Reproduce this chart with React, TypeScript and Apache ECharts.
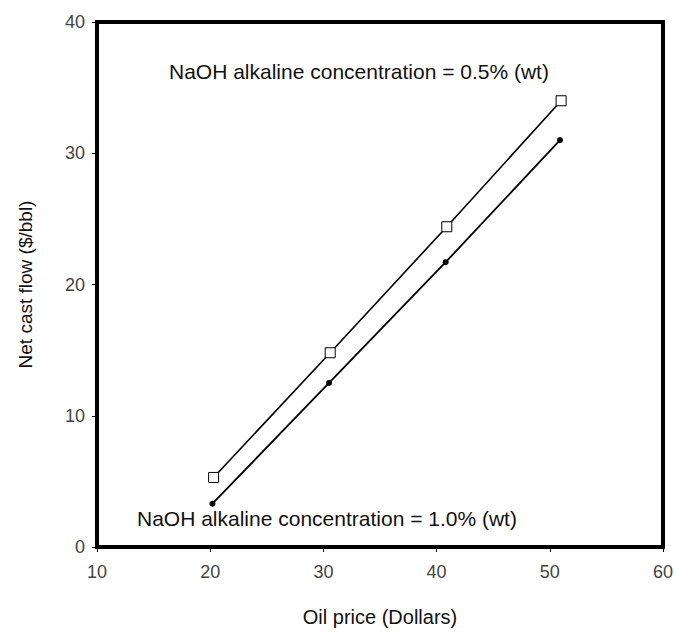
import React, { useEffect, useRef } from "react";
import * as echarts from "echarts";

const oilPrice05 = [20.3, 30.6, 40.9, 51.0];
const cashFlow05 = [5.3, 14.8, 24.4, 34.0];
const oilPrice10 = [20.2, 30.5, 40.8, 50.9];
const cashFlow10 = [3.3, 12.5, 21.7, 31.0];
const label05 = "NaOH alkaline concentration = 0.5% (wt)";
const label10 = "NaOH alkaline concentration = 1.0% (wt)";
const xTitle = "Oil price (Dollars)";
const yTitle = "Net cast flow ($/bbl)";

export default function App() {
  const ref = useRef<HTMLDivElement>(null);
  useEffect(() => {
    if (!ref.current) return;
    const chart = echarts.init(ref.current, null, { renderer: "svg" });
    const font = "Liberation Sans, Arial, sans-serif";
    chart.setOption({
      animation: false,
      backgroundColor: "#fff",
      grid: {
        left: 97,
        right: 13,
        top: 22,
        bottom: 86,
        show: true,
        borderColor: "#000",
        borderWidth: 4,
      },
      xAxis: {
        type: "value",
        min: 10,
        max: 60,
        interval: 10,
        name: xTitle,
        nameLocation: "middle",
        nameGap: 60,
        nameTextStyle: { fontFamily: font, fontSize: 20, color: "#111" },
        axisLine: { show: true, lineStyle: { color: "#000", width: 4 } },
        axisTick: { show: true, length: 5, lineStyle: { color: "#000", width: 1 } },
        axisLabel: { fontFamily: font, fontSize: 18, color: "#444", margin: 16, showMaxLabel: true },
        splitLine: { show: false },
      },
      yAxis: {
        type: "value",
        min: 0,
        max: 40,
        interval: 10,
        name: yTitle,
        nameLocation: "middle",
        nameGap: 62,
        nameTextStyle: { fontFamily: font, fontSize: 19, color: "#111" },
        axisLine: { show: true, lineStyle: { color: "#000", width: 4 } },
        axisTick: { show: true, length: 5, lineStyle: { color: "#000", width: 1 } },
        axisLabel: { fontFamily: font, fontSize: 18, color: "#444", margin: 12 },
        splitLine: { show: false },
      },
      series: [
        {
          type: "line",
          data: oilPrice05.map((x, i) => [x, cashFlow05[i]]),
          symbol: "rect",
          symbolSize: 10,
          showAllSymbol: true,
          lineStyle: { color: "#000", width: 1.6 },
          itemStyle: { color: "#fff", borderColor: "#000", borderWidth: 1 },
          z: 3,
        },
        {
          type: "line",
          data: oilPrice10.map((x, i) => [x, cashFlow10[i]]),
          symbol: "circle",
          symbolSize: 6,
          showAllSymbol: true,
          lineStyle: { color: "#000", width: 1.8 },
          itemStyle: { color: "#000", borderColor: "#000", borderWidth: 0 },
          z: 3,
        },
      ],
      graphic: [
        {
          type: "text",
          left: 169,
          top: 61,
          style: { text: label05, font: `21px ${font}`, fill: "#111" },
        },
        {
          type: "text",
          left: 137,
          top: 508,
          style: { text: label10, font: `21px ${font}`, fill: "#111" },
        },
      ],
    });
    return () => chart.dispose();
  }, []);
  return (
    <div
      ref={ref}
      style={{ position: "fixed", left: 0, top: 0, width: 676, height: 633 }}
    />
  );
}
